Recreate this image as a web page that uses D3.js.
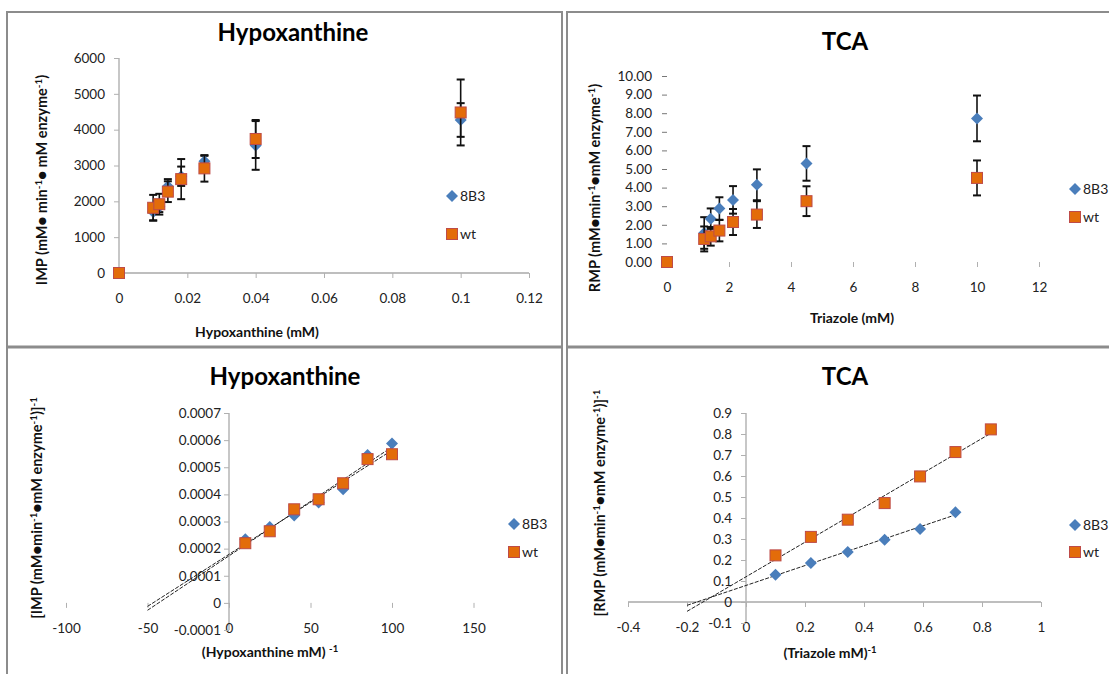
<!DOCTYPE html>
<html>
<head>
<meta charset="utf-8">
<script src="https://cdn.jsdelivr.net/npm/d3@7"></script>
<style>
  body { margin: 0; background: #fff; }
  svg { display: block; }
</style>
</head>
<body>
<svg id="chart" width="1109" height="674"></svg>
<script>
// ---- data: Hypoxanthine saturation (top left)
const hypConc = [0, 0.01, 0.0118, 0.0143, 0.0182, 0.025, 0.04, 0.1];
const hyp8B3 = [0, 1700, 1850, 2420, 2700, 3120, 3560, 4270];
const hyp8B3Err = [0, 230, 150, 200, 270, 150, 680, 470];
const hypWt = [0, 1820, 1920, 2270, 2620, 2920, 3740, 4480];
const hypWtErr = [0, 360, 290, 290, 560, 370, 530, 920];
const hypXTicks = [0, 0.02, 0.04, 0.06, 0.08, 0.1, 0.12];
const hypYTicks = [0, 1000, 2000, 3000, 4000, 5000, 6000];

// ---- data: TCA / triazole saturation (top right)
const tcaConc = [0, 1.2, 1.41, 1.69, 2.13, 2.9, 4.5, 10];
const tca8B3 = [0, 1.56, 2.33, 2.87, 3.34, 4.15, 5.3, 7.72];
const tca8B3Err = [0, 0.85, 0.55, 0.61, 0.74, 0.83, 0.93, 1.23];
const tcaWt = [0, 1.24, 1.38, 1.69, 2.15, 2.55, 3.27, 4.52];
const tcaWtErr = [0, 0.67, 0.5, 0.58, 0.7, 0.72, 0.8, 0.94];
const tcaXTicks = [0, 2, 4, 6, 8, 10, 12];
const tcaYTicks = [0, 1, 2, 3, 4, 5, 6, 7, 8, 9, 10];

// ---- data: Lineweaver-Burk hypoxanthine (bottom left)
const lbHypX = [10, 25, 40, 55, 70, 85, 100];
const lbHyp8B3 = [0.000235, 0.00028, 0.000322, 0.00037, 0.000419, 0.000545, 0.000588];
const lbHypWt = [0.00022, 0.000264, 0.000345, 0.000382, 0.000441, 0.00053, 0.000548];
const lbHypXTicks = [-100, -50, 0, 50, 100, 150];
const lbHypYTicks = [-0.0001, 0, 0.0001, 0.0002, 0.0003, 0.0004, 0.0005, 0.0006, 0.0007];

// ---- data: Lineweaver-Burk TCA (bottom right)
const lbTca8B3X = [0.1, 0.22, 0.345, 0.47, 0.59, 0.71];
const lbTca8B3 = [0.13, 0.186, 0.238, 0.297, 0.348, 0.427];
const lbTcaWtX = [0.1, 0.22, 0.345, 0.47, 0.59, 0.71, 0.83];
const lbTcaWt = [0.222, 0.31, 0.392, 0.471, 0.598, 0.714, 0.822];
const lbTcaXTicks = [-0.4, -0.2, 0, 0.2, 0.4, 0.6, 0.8, 1];
const lbTcaYTicks = [-0.1, 0, 0.1, 0.2, 0.3, 0.4, 0.5, 0.6, 0.7, 0.8, 0.9];

const seriesNames = ['8B3', 'wt'];

const FONT = 'Lato, "Open Sans", sans-serif';
const BLUE = '#4a7ebb';
const ORANGE = '#e36c0a';
const ORANGE_EDGE = '#be4b48';
const FRAME = '#8c8c8c';

const svg = d3.select('#chart');

// panel frames
const frame = svg.append('g').attr('stroke', FRAME).attr('fill', 'none');
frame.append('line').attr('x1', 7).attr('x2', 7).attr('y1', 11).attr('y2', 674).attr('stroke-width', 2);
frame.append('line').attr('x1', 562).attr('x2', 562).attr('y1', 11).attr('y2', 674).attr('stroke-width', 2);
frame.append('line').attr('x1', 567).attr('x2', 567).attr('y1', 11).attr('y2', 674).attr('stroke-width', 2);
frame.append('line').attr('x1', 6).attr('x2', 563).attr('y1', 12).attr('y2', 12).attr('stroke-width', 2);
frame.append('line').attr('x1', 566).attr('x2', 1109).attr('y1', 12).attr('y2', 12).attr('stroke-width', 2);
frame.append('line').attr('x1', 6).attr('x2', 563).attr('y1', 347).attr('y2', 347).attr('stroke-width', 3);
frame.append('line').attr('x1', 566).attr('x2', 1109).attr('y1', 347).attr('y2', 347).attr('stroke-width', 3);

const diamondPath = 'M0,-6L6,0L0,6L-6,0Z';

const drawDiamond = (g, cx, cy) =>
    g.append('path').attr('d', diamondPath).attr('transform', `translate(${cx},${cy})`).attr('fill', BLUE);

const drawSquare = (g, cx, cy) =>
    g.append('rect').attr('x', cx - 5.5).attr('y', cy - 5.5).attr('width', 11).attr('height', 11)
        .attr('fill', ORANGE).attr('stroke', ORANGE_EDGE).attr('stroke-width', 1);

const linReg = (xs, ys) => {
    const mx = d3.mean(xs), my = d3.mean(ys);
    const sxy = d3.sum(xs, (v, i) => (v - mx) * (ys[i] - my));
    const sxx = d3.sum(xs, v => (v - mx) * (v - mx));
    const b = sxy / sxx;
    return { a: my - b * mx, b };
};

// text with superscript parts: parts = [[text, isSup], ...]
const richText = (g, parts, attrs) => {
    const t = g.append('text');
    Object.entries(attrs).forEach(([k, v]) => t.attr(k, v));
    let up = false;
    parts.forEach(([str, sup]) => {
        const s = t.append('tspan').text(str);
        if (sup && !up) { s.attr('dy', -5).attr('font-size', '0.68em'); up = true; }
        else if (sup) { s.attr('font-size', '0.68em'); }
        else if (!sup && up) { s.attr('dy', 5); up = false; }
    });
    return t;
};

const drawPanel = (p) => {
    const g = svg.append('g').attr('font-family', FONT);
    const x = d3.scaleLinear().domain(p.xDomain).range(p.xRange);
    const y = d3.scaleLinear().domain(p.yDomain).range(p.yRange);

    // title
    g.append('text').attr('x', p.title.x).attr('y', p.title.y).attr('text-anchor', 'middle')
        .attr('font-size', 24).attr('font-weight', 'bold').attr('fill', '#000').text(p.title.text);

    // axis lines
    if (p.xLine) {
        g.append('line').attr('x1', x(p.xDomain[0])).attr('x2', x(p.xDomain[1]))
            .attr('y1', y(0)).attr('y2', y(0)).attr('stroke', '#a8a8a8').attr('stroke-width', 1.3);
    }
    if (p.yLine) {
        g.append('line').attr('x1', x(0)).attr('x2', x(0))
            .attr('y1', y(p.yDomain[0])).attr('y2', y(p.yDomain[1])).attr('stroke', '#b4b4b4').attr('stroke-width', 1.5);
    }

    const xAxis = g.append('g').attr('transform', `translate(0,${y(0)})`)
        .call(d3.axisBottom(x).tickValues(p.xTicks).tickSize(5).tickFormat(p.xFormat));
    xAxis.select('.domain').remove();
    xAxis.attr('font-family', FONT).attr('font-size', 13.5);
    xAxis.selectAll('line').attr('stroke', '#b0b0b0');
    xAxis.selectAll('text').attr('y', 25).attr('dy', '0.35em').attr('fill', '#222');

    const yAxis = g.append('g').attr('transform', `translate(${x(0)},0)`)
        .call(d3.axisLeft(y).tickValues(p.yTicks).tickSize(5).tickPadding(p.yPad).tickFormat(p.yFormat));
    yAxis.select('.domain').remove();
    yAxis.attr('font-family', FONT).attr('font-size', 13.5);
    yAxis.selectAll('line').attr('stroke', p.yTickColor);
    yAxis.selectAll('text').attr('fill', '#222');

    // axis titles
    richText(g, p.xTitle.parts, {
        x: p.xTitle.x, y: p.xTitle.y, 'text-anchor': 'middle', 'font-size': 14,
        'font-weight': 'bold', fill: '#111'
    });
    richText(g, p.yTitle.parts, {
        transform: `translate(${p.yTitle.x},${p.yTitle.y}) rotate(-90)`, 'text-anchor': 'middle',
        'font-size': 14.5, 'font-weight': 'bold', fill: '#111'
    });

    // trend lines
    (p.trends || []).forEach(({ xs, ys, from }) => {
        const { a, b } = linReg(xs, ys);
        const to = d3.max(xs);
        g.append('line').attr('x1', x(from)).attr('y1', y(a + b * from))
            .attr('x2', x(to)).attr('y2', y(a + b * to))
            .attr('stroke', '#222').attr('stroke-width', 1).attr('stroke-dasharray', '4,1.5');
    });

    // series: error bars then markers
    p.series.forEach(({ xs, ys, errs, marker }) => {
        if (errs) {
            xs.forEach((xv, i) => {
                const e = errs[i];
                if (!e) return;
                const cx = x(xv);
                g.append('line').attr('x1', cx).attr('x2', cx)
                    .attr('y1', y(ys[i] - e)).attr('y2', y(ys[i] + e))
                    .attr('stroke', '#111').attr('stroke-width', 1.6);
                [ys[i] - e, ys[i] + e].forEach(v => {
                    g.append('line').attr('x1', cx - 4).attr('x2', cx + 4)
                        .attr('y1', y(v)).attr('y2', y(v))
                        .attr('stroke', '#111').attr('stroke-width', 2);
                });
            });
        }
        xs.forEach((xv, i) => marker(g, x(xv), y(ys[i])));
    });

    // legend
    drawDiamond(g, p.legend.x, p.legend.y1);
    drawSquare(g, p.legend.x, p.legend.y2);
    [p.legend.y1, p.legend.y2].forEach((ly, i) => {
        g.append('text').attr('x', p.legend.x + 8).attr('y', ly).attr('dy', '0.35em')
            .attr('font-size', 14).attr('fill', '#222').text(seriesNames[i]);
    });
};

const bullet = '\u25CF';

// top left
drawPanel({
    xDomain: [0, 0.12], xRange: [119, 529],
    yDomain: [0, 6000], yRange: [273, 58],
    xTicks: hypXTicks, xFormat: d => String(d),
    yTicks: hypYTicks, yFormat: d => String(d), yPad: 9, yTickColor: '#b0b0b0',
    xLine: true, yLine: true,
    title: { text: 'Hypoxanthine', x: 293, y: 41 },
    xTitle: { x: 257, y: 337, parts: [['Hypoxanthine (mM)', false]] },
    yTitle: { x: 47, y: 180, parts: [['IMP (mM' + bullet + ' min', false], ['-1', true], [bullet + ' mM enzyme', false], ['-1', true], [')', false]] },
    legend: { x: 452, y1: 196, y2: 234 },
    series: [
        { xs: hypConc, ys: hyp8B3, errs: hyp8B3Err, marker: drawDiamond },
        { xs: hypConc, ys: hypWt, errs: hypWtErr, marker: drawSquare }
    ]
});

// top right
drawPanel({
    xDomain: [0, 12], xRange: [667, 1039],
    yDomain: [0, 10], yRange: [262, 76],
    xTicks: tcaXTicks, xFormat: d => String(d),
    yTicks: tcaYTicks, yFormat: d3.format('.2f'), yPad: 10, yTickColor: '#777',
    xLine: false, yLine: false,
    title: { text: 'TCA', x: 845, y: 50 },
    xTitle: { x: 852, y: 323, parts: [['Triazole (mM)', false]] },
    yTitle: { x: 600, y: 188, parts: [['RMP (mM' + bullet + 'min', false], ['-1', true], [bullet + 'mM enzyme', false], ['-1', true], [')', false]] },
    legend: { x: 1075, y1: 189, y2: 217 },
    series: [
        { xs: tcaConc, ys: tca8B3, errs: tca8B3Err, marker: drawDiamond },
        { xs: tcaConc, ys: tcaWt, errs: tcaWtErr, marker: drawSquare }
    ]
});

// bottom left
drawPanel({
    xDomain: [-100, 150], xRange: [66, 473.5],
    yDomain: [-0.0001, 0.0007], yRange: [630, 413],
    xTicks: lbHypXTicks, xFormat: d => String(d),
    yTicks: lbHypYTicks, yFormat: d => d === 0 ? '0' : d.toFixed(4), yPad: 3, yTickColor: '#b0b0b0',
    xLine: false, yLine: true,
    title: { text: 'Hypoxanthine', x: 285, y: 385 },
    xTitle: { x: 270, y: 657, parts: [['(Hypoxanthine mM) ', false], ['-1', true]] },
    yTitle: { x: 42, y: 508, parts: [['[IMP (mM' + bullet + 'min', false], ['-1', true], [bullet + 'mM enzyme', false], ['-1', true], [')]', false], ['-1', true]] },
    legend: { x: 514, y1: 524, y2: 552 },
    trends: [
        { xs: lbHypX, ys: lbHyp8B3, from: -50 },
        { xs: lbHypX, ys: lbHypWt, from: -50 }
    ],
    series: [
        { xs: lbHypX, ys: lbHyp8B3, marker: drawDiamond },
        { xs: lbHypX, ys: lbHypWt, marker: drawSquare }
    ]
});

// bottom right
drawPanel({
    xDomain: [-0.4, 1], xRange: [628, 1041],
    yDomain: [-0.1, 0.9], yRange: [623, 413],
    xTicks: lbTcaXTicks, xFormat: d => d === 0 ? '0' : String(+d.toFixed(1)),
    yTicks: lbTcaYTicks, yFormat: d => d === 0 ? '0' : d.toFixed(1), yPad: 9, yTickColor: '#b0b0b0',
    xLine: true, yLine: true,
    title: { text: 'TCA', x: 845, y: 385 },
    xTitle: { x: 830, y: 658, parts: [['(Triazole mM)', false], ['-1', true]] },
    yTitle: { x: 605, y: 503, parts: [['[RMP (mM' + bullet + 'min', false], ['-1', true], [bullet + 'mM enzyme', false], ['-1', true], [')]', false], ['-1', true]] },
    legend: { x: 1075, y1: 525, y2: 552 },
    trends: [
        { xs: lbTca8B3X, ys: lbTca8B3, from: -0.2 },
        { xs: lbTcaWtX, ys: lbTcaWt, from: -0.2 }
    ],
    series: [
        { xs: lbTca8B3X, ys: lbTca8B3, marker: drawDiamond },
        { xs: lbTcaWtX, ys: lbTcaWt, marker: drawSquare }
    ]
});
</script>
</body>
</html>
